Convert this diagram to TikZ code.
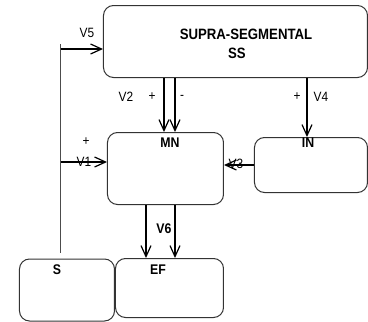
\documentclass[tikz,border=0pt]{standalone}
\usepackage{fontspec}
\setmainfont{Liberation Sans}
\newfontfamily\condfont[FakeStretch=0.88]{Liberation Sans}
\usetikzlibrary{arrows.meta}
\begin{document}
\begin{tikzpicture}[x=1pt,y=-1pt,
  box/.style={draw=black!80, line width=1pt, rounded corners=10pt, inner sep=0pt, anchor=north west},
  arr/.style={draw=black, line width=1.5pt, -{Straight Barb[length=11pt,width=10pt,line width=1.2pt]}},
  thin/.style={draw=black!70, line width=1pt},
  lbl/.style={font=\condfont\fontsize{13.5}{15}\selectfont, inner sep=0pt},
  blbl/.style={font=\condfont\fontsize{14}{16}\selectfont\bfseries, inner sep=0pt}]
\useasboundingbox (0,0) rectangle (368,322);
% boxes
\node[box, minimum width=264pt, minimum height=72pt] (ss) at (103,5) {};
\node[box, minimum width=116pt, minimum height=72pt] (mn) at (107,132) {};
\node[box, minimum width=113pt, minimum height=55pt] (in) at (254,137) {};
\node[box, minimum width=95pt, minimum height=62pt] (s) at (19,258.5) {};
\node[box, minimum width=108pt, minimum height=59pt] (ef) at (115,258) {};
% box titles
\node[blbl, font=\condfont\fontsize{15}{17}\selectfont\bfseries] (tss1) at (246,34) {SUPRA-SEGMENTAL};
\node[blbl, font=\condfont\fontsize{15}{17}\selectfont\bfseries] (tss2) at (237,53) {SS};
\node[blbl] (tmn) at (170,143) {MN};
\node[blbl] (tin) at (308,143) {IN};
\node[blbl] (ts) at (57,270) {S};
\node[blbl] (tef) at (158,270) {EF};
% helper coordinates
\coordinate (ltop) at (61,44);
\coordinate (lbot) at (61,253);
\coordinate (v5y) at (61,49);
\coordinate (v1y) at (61,162);
\coordinate (xa) at (164,0);
\coordinate (xb) at (175,0);
\coordinate (xc) at (307,0);
\coordinate (xd) at (146,0);
\coordinate (xe) at (175,0);
% connectors
\draw[thin] (ltop) -- (lbot);
\draw[arr] (v5y) -- (ss.west |- v5y);
\draw[arr] (v1y) -- (mn.west |- v1y);
\draw[arr] (ss.south -| xa) -- (mn.north -| xa);
\draw[arr] (ss.south -| xb) -- (mn.north -| xb);
\draw[arr] (ss.south -| xc) -- (in.north -| xc);
\draw[arr] (in.west) -- (mn.east |- in.west);
\draw[arr] (mn.south -| xd) -- (ef.north -| xd);
\draw[arr] (mn.south -| xe) -- (ef.north -| xe);
% labels
\node[lbl] (l5) at (87,33) {V5};
\node[lbl] (l2) at (126,97) {V2};
\node[lbl] (p2) at (152,97) {+};
\node[lbl] (m2) at (182,97) {-};
\node[lbl] (p4) at (297,97) {+};
\node[lbl] (l4) at (321,97) {V4};
\node[lbl] (p1) at (86,142) {+};
\node[lbl] (l1) at (84,162) {V1};
\node[lbl] (l3) at (236,164) {V3};
\node[blbl] (l6) at (164,229) {V6};
\end{tikzpicture}
\end{document}
